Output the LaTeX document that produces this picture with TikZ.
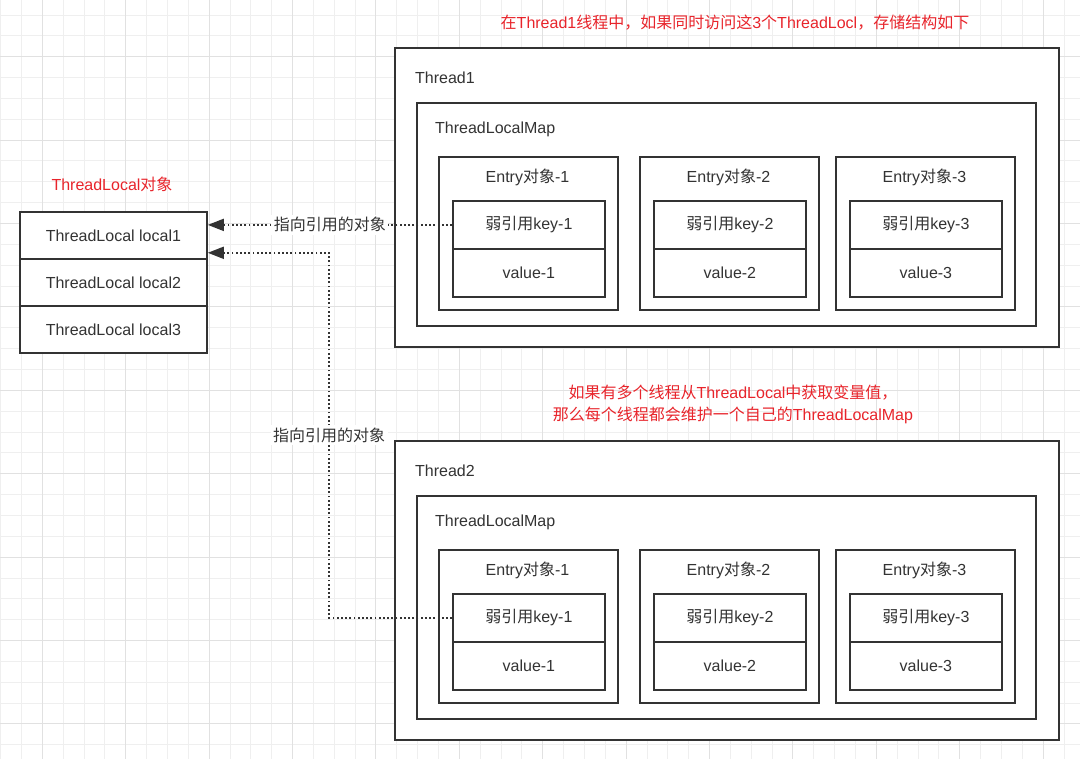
\documentclass[tikz,border=0pt]{standalone}
\usepackage{fontspec}
\setmainfont{Liberation Sans}
\newfontfamily\zhfont{Noto Sans CJK SC}
\newcommand{\zh}[1]{{\zhfont #1}}
\usetikzlibrary{arrows.meta}

\definecolor{linec}{HTML}{333333}
\definecolor{notered}{HTML}{E8242B}
\definecolor{gridminor}{HTML}{EFEFEF}
\definecolor{gridmajor}{HTML}{E1E1E1}

\tikzset{
    txt/.style={text=linec, font=\fontsize{16}{19}\selectfont, inner sep=0pt},
    box/.style={txt, draw=linec, line width=1.8pt, fill=white, anchor=north west},
    note/.style={text=notered, font=\fontsize{16}{22}\selectfont, align=center, inner sep=0pt},
    lbl/.style={txt, fill=white, inner sep=2.5pt},
    ref/.style={draw=linec, line width=1.8pt, dash pattern=on 1.8pt off 2.4pt,
        -{Triangle[length=16pt,width=12pt]}}
}

\begin{document}
\begin{tikzpicture}[x=1pt, y=-1pt, line cap=butt, line join=miter]

\fill[white] (0,0) rectangle (1080,759);
\useasboundingbox (0,0) rectangle (1080,759);

% background grid
\foreach \i in {0,...,51} {
    \draw[gridminor, line width=0.9pt] (0.6+20.85*\i,0) -- (0.6+20.85*\i,759);
}
\foreach \i in {0,...,36} {
    \draw[gridminor, line width=0.9pt] (0,15+20.85*\i) -- (1080,15+20.85*\i);
}
\foreach \i in {2,6,...,50} {
    \draw[gridmajor, line width=1.1pt] (0.6+20.85*\i,0) -- (0.6+20.85*\i,759);
}
\foreach \i in {2,6,...,34} {
    \draw[gridmajor, line width=1.1pt] (0,15+20.85*\i) -- (1080,15+20.85*\i);
}

% ThreadLocal objects
\node[note] (objnote) at (112,184) {ThreadLocal\zh{对象}};
\foreach \r in {1,2,3} {
    \node[box, minimum width=187pt, minimum height=47pt] (local\r) at (19,164+47*\r)
        {ThreadLocal local\r};
}

% threads with their maps
\foreach \t/\dy in {1/0, 2/393} {
    \node[box, minimum width=664pt, minimum height=299pt] (thread\t) at (394,47+\dy) {};
    \node[txt, anchor=west] (tname\t) at (415,78+\dy) {Thread\t};
    \node[box, minimum width=619pt, minimum height=223pt] (map\t) at (416,102+\dy) {};
    \node[txt, anchor=west] (mname\t) at (435,129+\dy) {ThreadLocalMap};
    \foreach \e/\ex in {1/438, 2/639, 3/835} {
        \node[box, minimum width=179pt, minimum height=153pt] (entry\t\e) at (\ex,156+\dy) {};
        \node[txt] (ename\t\e) at (\ex+89.5,177+\dy) {Entry\zh{对象}-\e};
        \node[box, minimum width=152pt, minimum height=48pt] (key\t\e) at (\ex+14,200+\dy)
            {\zh{弱引用}key-\e};
        \node[box, minimum width=152pt, minimum height=48pt] (val\t\e) at (\ex+14,248+\dy)
            {value-\e};
    }
}

% notes
\node[note] (note1) at (735,23) {\zh{在}Thread1\zh{线程中，如果同时访问这}3\zh{个}ThreadLocl\zh{，存储结构如下}};
\node[note] (note2) at (733,404) {\zh{如果有多个线程从}ThreadLocal\zh{中获取变量值，}\\
    \zh{那么每个线程都会维护一个自己的}ThreadLocalMap};

% references
\coordinate (in2) at ([yshift=7pt]local1.south east);
\draw[ref] (key11.west) -- (local1.east |- key11.west)
    node[lbl, pos=0.5] (ref1) {\zh{指向引用的对象}};
\draw[ref] (key21.west) -- ++(-123,0) |- (in2)
    node[lbl, pos=0.25] (ref2) {\zh{指向引用的对象}};

\end{tikzpicture}
\end{document}
